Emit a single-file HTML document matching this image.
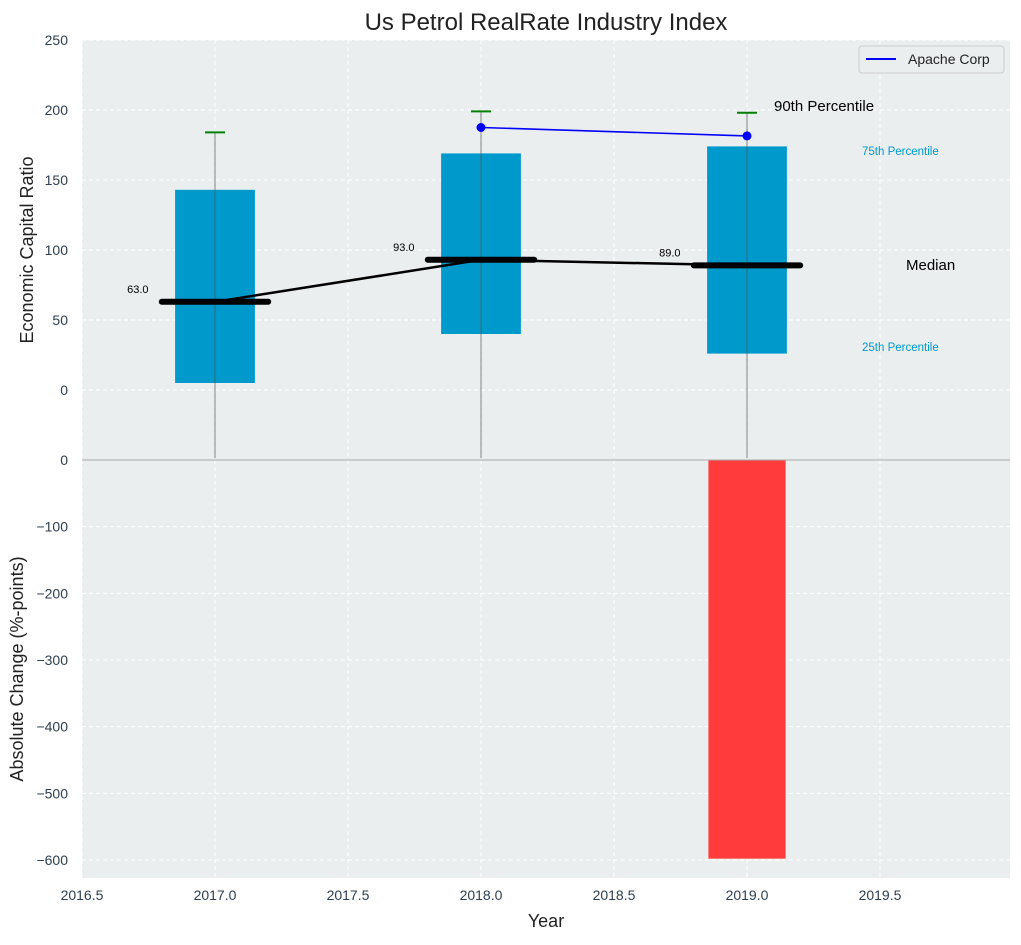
<!DOCTYPE html>
<html><head><meta charset="utf-8"><style>
body{margin:0;background:#fff;font-family:"Liberation Sans",sans-serif}
</style></head><body>
<svg id="chart" width="1021" height="940" xmlns="http://www.w3.org/2000/svg" font-family="Liberation Sans, sans-serif"></svg>
<script>
const years=[2017,2018,2019];
const q25=[5,40,26];
const q75=[143,169,174];
const medians=[63,93,89];
const p90=[184,199,198];
const apacheYears=[2018,2019];
const apacheVals=[187.5,181.5];
const changeYears=[2019];
const changeVals=[-598];
const xTicks=[2016.5,2017,2017.5,2018,2018.5,2019,2019.5];
const yTopTicks=[0,50,100,150,200,250];
const yBotTicks=[-600,-500,-400,-300,-200,-100,0];

const L=82,R=1010,T=40,M=460,B=878;
const X=v=>L+(v-2016.5)*266;
const YT=v=>390-v*1.4;
const YB=v=>460-v*(400/600);
const svg=document.getElementById('chart');
const NS='http://www.w3.org/2000/svg';
function mk(tag,at,txt){const e=document.createElementNS(NS,tag);for(const k in at)e.setAttribute(k,at[k]);if(txt!==undefined)e.textContent=txt;svg.appendChild(e);return e;}

let e;
e=mk('rect',{x:L,y:T,width:R-L,height:M-T,fill:'#eaeeef'});


e=mk('rect',{x:L,y:M,width:R-L,height:B-M,fill:'#eaeeef'});


xTicks.forEach(t=>{e=mk('line',{x1:X(t),x2:X(t),y1:T,y2:B,stroke:'#fff','stroke-dasharray':'4,3','stroke-width':1});

});
yTopTicks.forEach(t=>{e=mk('line',{x1:L,x2:R,y1:YT(t),y2:YT(t),stroke:'#fff','stroke-dasharray':'4,3'});


e=mk('text',{x:68,y:YT(t)+5,'text-anchor':'end','font-size':14,fill:'#2c3e50'},t);

});
yBotTicks.forEach(t=>{e=mk('line',{x1:L,x2:R,y1:YB(t),y2:YB(t),stroke:'#fff','stroke-dasharray':'4,3'});


e=mk('text',{x:68,y:YB(t)+5,'text-anchor':'end','font-size':14,fill:'#2c3e50'},t<0?'\u2212'+(-t):t);

});
xTicks.forEach(t=>{e=mk('text',{x:X(t),y:900,'text-anchor':'middle','font-size':14,fill:'#2c3e50'},t.toFixed(1));

});
years.forEach((y,i)=>{
e=mk('rect',{x:X(y-0.15),y:YT(q75[i]),width:0.3*266,height:YT(q25[i])-YT(q75[i]),fill:'#0099cc'});


e=mk('line',{x1:X(y),x2:X(y),y1:458,y2:YT(p90[i]),stroke:'#555','stroke-width':1,opacity:0.7});


e=mk('line',{x1:X(y)-10,x2:X(y)+10,y1:YT(p90[i]),y2:YT(p90[i]),stroke:'green','stroke-width':2});


});
e=mk('polyline',{points:years.map((y,i)=>X(y)+','+YT(medians[i])).join(' '),fill:'none',stroke:'#000','stroke-width':2.5});


years.forEach((y,i)=>{
e=mk('line',{x1:X(y-0.2),x2:X(y+0.2),y1:YT(medians[i]),y2:YT(medians[i]),stroke:'#000','stroke-width':6,'stroke-linecap':'round'});


e=mk('text',{x:X(y-0.25),y:YT(medians[i])-9,'text-anchor':'end','font-size':11,fill:'#000'},medians[i].toFixed(1));


});
e=mk('polyline',{points:apacheYears.map((y,i)=>X(y)+','+YT(apacheVals[i])).join(' '),fill:'none',stroke:'#0000ff','stroke-width':1.6});


apacheYears.forEach((y,i)=>{e=mk('circle',{cx:X(y),cy:YT(apacheVals[i]),r:4.5,fill:'#0000ff'});

});
changeYears.forEach((y,i)=>{e=mk('rect',{x:X(y-0.145),y:YB(0),width:0.29*266,height:YB(changeVals[i])-YB(0),fill:'#ff3b3b'});

});
e=mk('line',{x1:L,x2:R,y1:M,y2:M,stroke:'#aaa','stroke-width':1});


e=mk('text',{x:774,y:111,'font-size':15,fill:'#000'},'90th Percentile');


e=mk('text',{x:862,y:155,'font-size':11.5,fill:'#0099cc'},'75th Percentile');


e=mk('text',{x:906,y:270,'font-size':15,fill:'#000'},'Median');


e=mk('text',{x:862,y:351,'font-size':11.5,fill:'#0099cc'},'25th Percentile');


e=mk('rect',{x:859,y:46,width:145,height:27,rx:3,fill:'#eaeeef',stroke:'#ccc'});


e=mk('line',{x1:866,x2:896,y1:59,y2:59,stroke:'#0000ff','stroke-width':2});


e=mk('text',{x:908,y:64,'font-size':14,fill:'#222'},'Apache Corp');


e=mk('text',{x:546,y:30,'text-anchor':'middle','font-size':24,fill:'#222'},'Us Petrol RealRate Industry Index');


e=mk('text',{x:546,y:927,'text-anchor':'middle','font-size':18,fill:'#222'},'Year');


e=mk('text',{x:33,y:250,'text-anchor':'middle','font-size':18,fill:'#222',transform:'rotate(-90 33 250)'},'Economic Capital Ratio');


e=mk('text',{x:23,y:669,'text-anchor':'middle','font-size':18,fill:'#222',transform:'rotate(-90 23 669)'},'Absolute Change (%-points)');


</script>
</body></html>
